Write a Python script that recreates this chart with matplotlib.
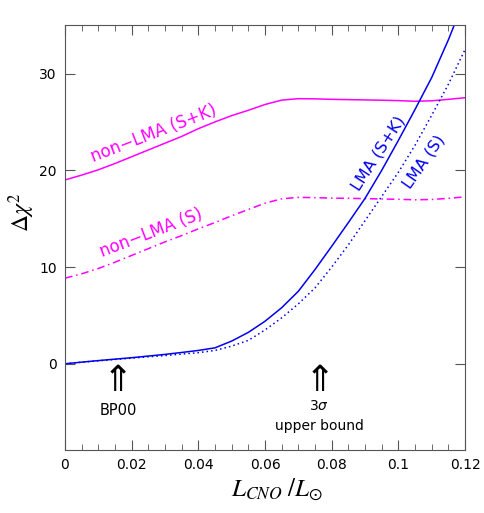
import matplotlib
matplotlib.use("Agg")
import matplotlib.pyplot as plt

# luminosity fraction grid and delta chi^2 curves
l_cno = [0.0, 0.005, 0.01, 0.015, 0.02, 0.025, 0.03, 0.035, 0.04, 0.045,
         0.05, 0.055, 0.06, 0.065, 0.07, 0.075, 0.08, 0.085, 0.09, 0.095,
         0.1, 0.105, 0.11, 0.115, 0.12]

nonlma_sk = [19.0, 19.5, 20.05, 20.7, 21.4, 22.1, 22.8, 23.5, 24.3, 25.0,
             25.65, 26.2, 26.8, 27.25, 27.4, 27.38, 27.33, 27.3, 27.27, 27.24,
             27.2, 27.13, 27.18, 27.33, 27.5]
nonlma_s = [8.85, 9.3, 9.85, 10.5, 11.2, 11.9, 12.6, 13.25, 13.95, 14.6,
            15.3, 15.95, 16.6, 17.05, 17.2, 17.17, 17.12, 17.1, 17.07, 17.03,
            17.0, 16.95, 16.98, 17.1, 17.25]
lma_sk = [0.0, 0.17, 0.33, 0.48, 0.63, 0.8, 0.97, 1.17, 1.38, 1.65,
          2.35, 3.25, 4.4, 5.8, 7.5, 9.75, 12.15, 14.6, 17.1, 20.0,
          23.1, 26.3, 29.6, 33.5, 37.8]
lma_s = [0.0, 0.16, 0.31, 0.45, 0.58, 0.72, 0.85, 1.0, 1.15, 1.38,
         1.83, 2.42, 3.5, 4.75, 6.2, 7.85, 10.0, 12.3, 14.8, 17.3,
         19.8, 22.6, 25.7, 28.9, 32.5]

xticks = [0, 0.02, 0.04, 0.06, 0.08, 0.1, 0.12]
xticklabels = ["0", "0.02", "0.04", "0.06", "0.08", "0.1", "0.12"]
yticks = [0, 10, 20, 30]

magenta = "#ff00ff"
blue = "#0000ee"

fig = plt.figure(figsize=(4.85, 5.13), dpi=100)
ax = fig.add_axes([0.134, 0.123, 0.825, 0.828])

ax.plot(l_cno, nonlma_sk, color=magenta, lw=1.1)
ax.plot(l_cno, nonlma_s, color=magenta, lw=1.1, dashes=(5, 2.5, 1, 2.5))
ax.plot(l_cno, lma_sk, color=blue, lw=1.1)
ax.plot(l_cno, lma_s, color=blue, lw=1.1, dashes=(1, 2))

ax.set_xlim(0, 0.12)
ax.set_ylim(-8.9, 35)
ax.set_xticks(xticks)
ax.set_xticklabels(xticklabels)
ax.set_xticks([i * 0.005 for i in range(25)], minor=True)
ax.set_yticks(yticks)
ax.tick_params(which="both", direction="in", top=True, right=True,
               labelsize=10, color="#555555", pad=6)
ax.tick_params(which="major", length=7)
ax.tick_params(which="minor", length=4)
for s in ax.spines.values():
    s.set_color("#555555")

ax.set_xlabel(r"$L_{CNO}\;/L_{\odot}$", fontsize=18, math_fontfamily="stix")
ax.xaxis.set_label_coords(0.53, -0.064)
ax.set_ylabel(r"$\Delta\chi^2$", fontsize=17, math_fontfamily="stix")
ax.yaxis.set_label_coords(-0.07, 0.56)

# curve labels
ax.text(0.0265, 23.8, "non\u2212LMA (S+K)", color=magenta, fontsize=12,
        rotation=21, ha="center", va="center")
ax.text(0.0258, 13.5, "non\u2212LMA (S)", color=magenta, fontsize=12,
        rotation=21, ha="center", va="center")
ax.text(0.0939, 21.8, "LMA (S+K)", color=blue, fontsize=11.5,
        rotation=57, ha="center", va="center")
ax.text(0.1077, 20.9, "LMA (S)", color=blue, fontsize=11.5,
        rotation=55, ha="center", va="center")

# markers of the BP00 value and the 3 sigma bound
ax.text(0.0157, -1.8, "\u21d1", fontsize=26, ha="center", va="center")
ax.text(0.0159, -4.8, "BP00", fontsize=10.5, ha="center", va="center")
ax.text(0.0763, -1.8, "\u21d1", fontsize=26, ha="center", va="center")
ax.text(0.0763, -4.35, r"3$\sigma$", fontsize=10, ha="center", va="center")
ax.text(0.0763, -6.4, "upper bound", fontsize=10, ha="center", va="center")

fig.savefig("out.png", dpi=100)
